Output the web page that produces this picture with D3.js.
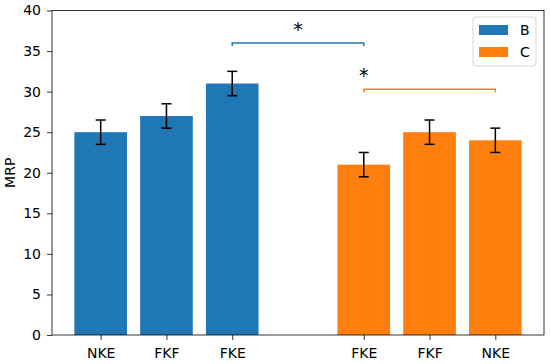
<!DOCTYPE html>
<html lang="en">
<head>
  <script src="https://d3js.org/d3.v7.min.js"></script>
  <style>
    body { margin: 0; background: #fff; }
    text { font-family: "DejaVu Sans", sans-serif; }
  </style>
</head>
<body>
  <script>
    // chart data
    var groups = ["B", "C"];
    var colors = ["#1f77b4", "#ff7f0e"];
    var labelsB = ["NKE", "FKF", "FKE"];
    var labelsC = ["FKE", "FKF", "NKE"];
    var valuesB = [25, 27, 31];
    var valuesC = [21, 25, 24];
    var errB = [1.5, 1.5, 1.5];
    var errC = [1.5, 1.5, 1.5];
    var posB = [0, 1, 2];
    var posC = [4, 5, 6];
    var yTicks = [0, 5, 10, 15, 20, 25, 30, 35, 40];
    // significance brackets: [from, to, level, group index, star position]
    var sigs = [[2, 4, 36, 0, 3], [4, 6, 30.3, 1, 4]];

    var svg_width = 550, svg_height = 364;
    var margin = { top: 10.5, right: 6, bottom: 29, left: 52 };
    var width = svg_width - margin.left - margin.right;
    var height = svg_height - margin.top - margin.bottom;
    var barW = 0.8;

    var svg = d3.select("body").append("svg")
      .attr("width", svg_width)
      .attr("height", svg_height);

    var g = svg.append("g")
      .attr("transform", "translate(" + margin.left + "," + margin.top + ")");

    var x = d3.scaleLinear().domain([-0.74, 6.74]).range([0, width]);
    var y = d3.scaleLinear().domain([0, 40]).range([height, 0]);

    var bars = [];
    posB.forEach(function (p, i) { bars.push({ pos: p, label: labelsB[i], v: valuesB[i], e: errB[i], c: colors[0] }); });
    posC.forEach(function (p, i) { bars.push({ pos: p, label: labelsC[i], v: valuesC[i], e: errC[i], c: colors[1] }); });

    g.selectAll("rect.bar").data(bars).enter().append("rect")
      .attr("class", "bar")
      .attr("x", function (d) { return x(d.pos - barW / 2); })
      .attr("width", function (d) { return x(d.pos + barW / 2) - x(d.pos - barW / 2); })
      .attr("y", function (d) { return y(d.v); })
      .attr("height", function (d) { return y(0) - y(d.v); })
      .attr("fill", function (d) { return d.c; });

    // error bars
    var eb = g.selectAll("g.err").data(bars).enter().append("g")
      .attr("class", "err")
      .attr("stroke", "#000")
      .attr("stroke-width", 1.5);
    eb.append("line")
      .attr("x1", function (d) { return x(d.pos); })
      .attr("x2", function (d) { return x(d.pos); })
      .attr("y1", function (d) { return y(d.v - d.e); })
      .attr("y2", function (d) { return y(d.v + d.e); });
    [-1, 1].forEach(function (s) {
      eb.append("line")
        .attr("x1", function (d) { return x(d.pos) - 5; })
        .attr("x2", function (d) { return x(d.pos) + 5; })
        .attr("y1", function (d) { return y(d.v + s * d.e); })
        .attr("y2", function (d) { return y(d.v + s * d.e); });
    });

    // significance brackets
    sigs.forEach(function (s) {
      var x1 = x(s[0]), x2 = x(s[1]), yy = y(s[2]);
      g.append("path")
        .attr("d", "M" + x1 + "," + (yy + 3) + "V" + yy + "H" + x2 + "V" + (yy + 3))
        .attr("fill", "none")
        .attr("stroke", colors[s[3]])
        .attr("stroke-width", 1.5);
      g.append("text")
        .attr("x", x(s[4]))
        .attr("y", yy - 7)
        .attr("text-anchor", "middle")
        .attr("font-size", 19)
        .text("*");
    });

    // axes
    var yAxis = g.append("g")
      .call(d3.axisLeft(y).tickValues(yTicks).tickSize(5).tickPadding(6));
    var xAxis = g.append("g")
      .attr("transform", "translate(0," + height + ")")
      .call(d3.axisBottom(x).tickValues(bars.map(function (d) { return d.pos; }))
        .tickFormat(function (d, i) { return bars[i].label; })
        .tickSize(5).tickPadding(8));
    [yAxis, xAxis].forEach(function (a) {
      a.select(".domain").remove();
      a.selectAll("line").attr("stroke", "#000").attr("stroke-width", 0.8);
      a.selectAll("text").attr("font-size", 14).attr("fill", "#000")
        .style("font-family", "DejaVu Sans, sans-serif");
    });

    g.append("rect")
      .attr("width", width).attr("height", height)
      .attr("fill", "none").attr("stroke", "#000").attr("stroke-width", 0.8);

    svg.append("text")
      .attr("transform", "translate(15," + (margin.top + height / 2) + ") rotate(-90)")
      .attr("text-anchor", "middle")
      .attr("font-size", 14)
      .text("MRP");

    // legend
    var lg = svg.append("g").attr("transform", "translate(473,17)");
    lg.append("rect")
      .attr("width", 63).attr("height", 49).attr("rx", 3)
      .attr("fill", "#fff").attr("fill-opacity", 0.8)
      .attr("stroke", "#cccccc").attr("stroke-width", 0.8);
    groups.forEach(function (name, i) {
      lg.append("rect")
        .attr("x", 6).attr("y", 8 + i * 22)
        .attr("width", 29).attr("height", 10)
        .attr("fill", colors[i]);
      lg.append("text")
        .attr("x", 47).attr("y", 13 + i * 22)
        .attr("dy", "0.35em")
        .attr("font-size", 14)
        .text(name);
    });
  </script>
</body>
</html>
